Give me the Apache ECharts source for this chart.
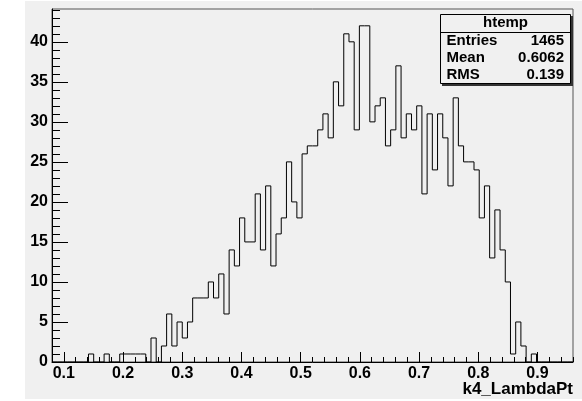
<!DOCTYPE html>
<html><head><meta charset="utf-8">
<script src="https://cdn.jsdelivr.net/npm/echarts@6/dist/echarts.min.js"></script>
<style>html,body{margin:0;padding:0;background:#fff}#c{width:582px;height:401px}</style>
</head><body><div id="c"></div>
<script>
// Histogram definition
const xMin = 0.08;
const xMax = 0.96;
const nBins = 100;
const counts = [
  0,0,0,0,0,0,0,1,0,0,
  1,0,0,1,1,1,1,1,0,3,
  0,2,6,2,5,3,5,8,8,8,
  10,8,11,6,14,12,18,15,15,21,
  14,22,12,16,18,25,20,18,26,27,
  27,29,31,28,35,32,41,40,29,42,
  42,30,32,33,27,29,37,28,31,29,
  32,21,31,24,31,28,22,33,27,25,
  25,24,18,22,13,19,14,10,1,5,
  2,0,1,0,0,0,0,0,0,0
];
const yMax = 44.1;
const xMajorTicks = [0.1,0.2,0.3,0.4,0.5,0.6,0.7,0.8,0.9];
const xMinorTicks = [0.08,0.10,0.12,0.14,0.16,0.18,0.20,0.22,0.24,0.26,0.28,0.30,0.32,0.34,0.36,0.38,0.40,0.42,0.44,0.46,0.48,0.50,0.52,0.54,0.56,0.58,0.60,0.62,0.64,0.66,0.68,0.70,0.72,0.74,0.76,0.78,0.80,0.82,0.84,0.86,0.88,0.90,0.92,0.94,0.96];
const yMajorTicks = [0,5,10,15,20,25,30,35,40];
const yMinorTicks = [0,1,2,3,4,5,6,7,8,9,10,11,12,13,14,15,16,17,18,19,20,21,22,23,24,25,26,27,28,29,30,31,32,33,34,35,36,37,38,39,40,41,42,43,44];
const histName = 'htemp';
const statLabels = ['Entries','Mean','RMS'];
const statValues = ['1465','0.6062','0.139'];
const xTitle = 'k4_LambdaPt';

const binW = (xMax - xMin) / nBins;
const histLine = [];
counts.forEach((c, i) => {
  const lo = xMin + i * binW;
  histLine.push([lo, c], [lo + binW, c]);
});

const FONT = 'Liberation Sans';
const chart = echarts.init(document.getElementById('c'), null, {renderer: 'canvas'});

const statRowsY = [41, 58, 75];
const graphic = [
  {type:'rect', shape:{x:0,y:0,width:25,height:401}, style:{fill:'#fff'}, silent:true},
  {type:'rect', shape:{x:0,y:399,width:582,height:2}, style:{fill:'#fff'}, silent:true},
  {type:'rect', shape:{x:0,y:0,width:582,height:1}, style:{fill:'#fff'}, silent:true},
  {type:'rect', shape:{x:442,y:16,width:131,height:70}, style:{fill:'#333'}, z:100},
  {type:'rect', shape:{x:440.5,y:14.5,width:130,height:69}, style:{fill:'#f0f0f0',stroke:'#000',lineWidth:1}, z:101},
  {type:'line', shape:{x1:440.5,y1:32.5,x2:570.5,y2:32.5}, style:{stroke:'#000',lineWidth:1}, z:102},
  {type:'text', x:505.5, y:23, z:103, style:{text:histName, fill:'#000', font:'bold 15px "Liberation Sans"', textAlign:'center', textVerticalAlign:'middle'}},
  {type:'text', x:573, y:389, z:103, style:{text:xTitle, fill:'#000', font:'bold 17px "Liberation Sans"', textAlign:'right', textVerticalAlign:'middle'}}
];
statLabels.forEach((lab, i) => {
  graphic.push({type:'text', x:446.5, y:statRowsY[i], z:103, style:{text:lab, fill:'#000', font:'bold 15px "Liberation Sans"', textAlign:'left', textVerticalAlign:'middle'}});
  graphic.push({type:'text', x:564, y:statRowsY[i], z:103, style:{text:statValues[i], fill:'#000', font:'bold 15px "Liberation Sans"', textAlign:'right', textVerticalAlign:'middle'}});
});

const option = {
  animation: false,
  backgroundColor: '#f0f0f0',
  textStyle: {fontFamily: FONT},
  grid: {left:52, top:9, width:521, height:353, show:true, borderColor:'#555', borderWidth:1, backgroundColor:'transparent', containLabel:false},
  xAxis: [
    {type:'value', min:xMin, max:xMax, position:'bottom',
     axisLine:{show:true, onZero:false, lineStyle:{color:'#000', width:1}},
     splitLine:{show:false},
     axisTick:{show:true, inside:true, length:10, customValues:xMajorTicks, lineStyle:{color:'#000'}},
     axisLabel:{show:true, customValues:xMajorTicks, formatter:v => Number(v).toFixed(1), margin:4, fontSize:16, fontWeight:'bold', color:'#000', fontFamily:FONT}},
    {type:'value', min:xMin, max:xMax, position:'bottom',
     axisLine:{show:false}, splitLine:{show:false},
     axisTick:{show:true, inside:true, length:5, customValues:xMinorTicks, lineStyle:{color:'#000'}},
     axisLabel:{show:false}}
  ],
  yAxis: [
    {type:'value', min:0, max:yMax, position:'left',
     axisLine:{show:true, onZero:false, lineStyle:{color:'#000', width:1}},
     splitLine:{show:false},
     axisTick:{show:true, inside:true, length:16, customValues:yMajorTicks, lineStyle:{color:'#000'}},
     axisLabel:{show:true, customValues:yMajorTicks, margin:4, fontSize:16, fontWeight:'bold', color:'#000', fontFamily:FONT}},
    {type:'value', min:0, max:yMax, position:'left',
     axisLine:{show:false}, splitLine:{show:false},
     axisTick:{show:true, inside:true, length:8, customValues:yMinorTicks, lineStyle:{color:'#000'}},
     axisLabel:{show:false}}
  ],
  series: [{
    type:'line', xAxisIndex:0, yAxisIndex:0, data:histLine,
    showSymbol:false, symbol:'none', clip:true,
    lineStyle:{color:'#000', width:1}, z:3
  }],
  graphic: graphic
};
chart.setOption(option);
</script>
</body></html>
